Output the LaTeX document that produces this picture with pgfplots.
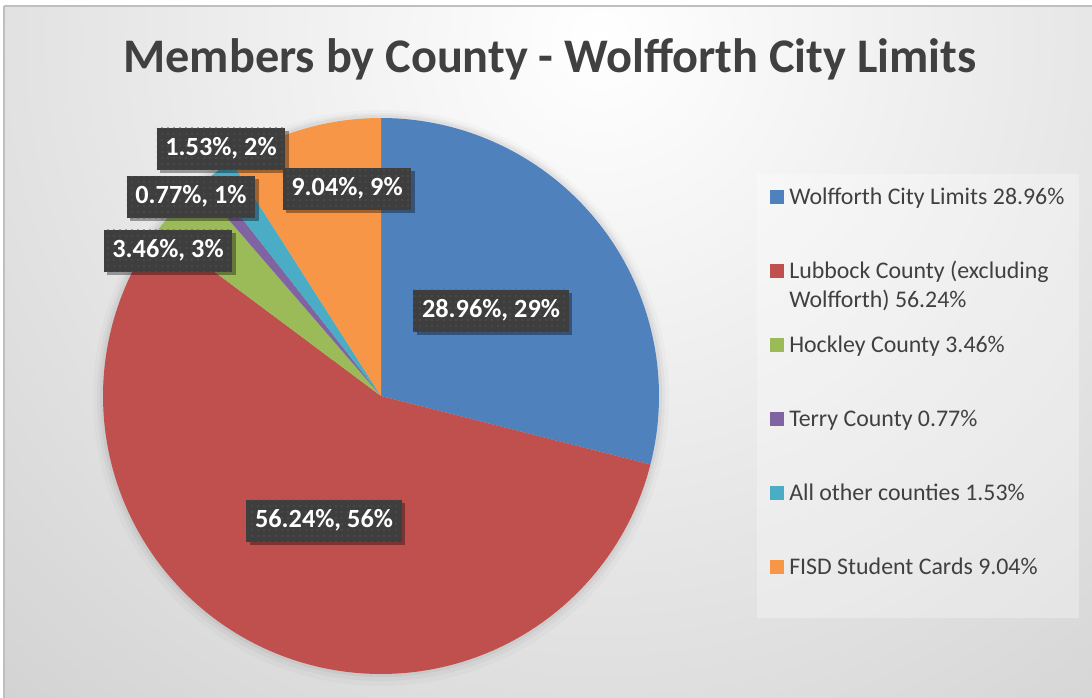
\documentclass[border=0pt]{standalone}
\usepackage{fontspec}
\setmainfont{Carlito}
\usepackage{pgfplots}
\pgfplotsset{compat=1.18}
\usetikzlibrary{shadows,patterns.meta}
\definecolor{cBlue}{HTML}{4F81BD}
\definecolor{cRed}{HTML}{C0504D}
\definecolor{cGreen}{HTML}{9BBB59}
\definecolor{cPurple}{HTML}{8064A2}
\definecolor{cAqua}{HTML}{4BACC6}
\definecolor{cOrange}{HTML}{F79646}
\definecolor{txt}{HTML}{404040}
\definecolor{bgout}{HTML}{C6C6C6}
\definecolor{frame}{HTML}{BFBFBF}
\definecolor{lblc}{HTML}{3E3E3E}
\definecolor{dotc}{HTML}{545454}

\tikzdeclarepattern{
  name=sparsedots,
  type=uncolored,
  bounding box={(-2.25pt,-2.25pt) and (2.25pt,2.25pt)},
  tile size={(4.5pt,4.5pt)},
  code={\fill (0pt,0pt) circle (0.65pt);}
}

% slice shares (percent), clockwise from 12 o'clock
\newcommand\sA{28.96}% Wolfforth City Limits
\newcommand\sB{56.24}% Lubbock County (excluding Wolfforth)
\newcommand\sC{3.46}%  Hockley County
\newcommand\sD{0.77}%  Terry County
\newcommand\sE{1.53}%  All other counties
\newcommand\sF{9.04}%  FISD Student Cards

\pgfmathsetmacro{\aO}{90}
\pgfmathsetmacro{\aA}{\aO-3.6*\sA}
\pgfmathsetmacro{\aB}{\aA-3.6*\sB}
\pgfmathsetmacro{\aC}{\aB-3.6*\sC}
\pgfmathsetmacro{\aD}{\aC-3.6*\sD}
\pgfmathsetmacro{\aE}{\aD-3.6*\sE}
\pgfmathsetmacro{\aF}{\aE-3.6*\sF}

\tikzset{lab/.style={fill=lblc, text=white,
  font=\fontsize{19.7}{23}\selectfont\bfseries,
  inner xsep=6.5pt, inner ysep=0pt, minimum height=31.5pt,
  text height=12.8pt, text depth=3pt,
  drop shadow={shadow xshift=2.5pt, shadow yshift=-2.5pt, opacity=0.35, fill=black},
  postaction={pattern={sparsedots}, pattern color=dotc}}}

\begin{document}
\begin{tikzpicture}[x=0.75pt,y=-0.75pt]
\useasboundingbox (0,0) rectangle (1092,698);
\fill[white] (0,0) rectangle (1092,698);
\begin{scope}
  \clip (4,6) rectangle (1092,698);
  \fill[bgout] (4,6) rectangle (1092,698);
  \shade[inner color=white, outer color=bgout] (600,40) circle (1150);
\end{scope}
\draw[frame, line width=1.2pt] (4,6) -- (1092,6);
\draw[frame, line width=1.2pt] (4,6) -- (4,698);
\fill[white, opacity=0.3] (757,174) rectangle (1079,618);
\node[anchor=base, font=\fontsize{36.2}{43}\selectfont\bfseries, text=txt] at (550,73) {Members by County - Wolfforth City Limits};
% soft shadow round the pie
\fill[black, opacity=0.02] (381,398) circle (288);
\fill[black, opacity=0.03] (381,397) circle (284);
\fill[black, opacity=0.04] (381,396) circle (281);
\coordinate (pc) at (381,396);

\begin{axis}[at={(pc)}, anchor=center, hide axis, scale only axis,
  width=417pt, height=417pt, xmin=-1, xmax=1, ymin=-1, ymax=1, clip=false,
  legend cell align=left,
  legend style={at={(1.1996,0.8782)}, anchor=north west, draw=none, fill=none,
    inner sep=0pt, row sep=39pt, column sep=3.75pt,
    nodes={font=\fontsize{17.9}{21}\selectfont, text=txt, inner sep=0pt,
      text height=14pt, text depth=2.5pt}},
  legend image code/.code={\path[#1] (0pt,-5.25pt) rectangle (10.5pt,5.25pt);},
]
\addplot[fill=cBlue, draw=none, domain=\aA:\aO, samples=90, variable=\t] ({cos(t)},{sin(t)}) -- (axis cs:0,0) -- cycle;
\addlegendentry{Wolfforth City Limits 28.96\%}
\addplot[fill=cRed, draw=none, domain=\aB:\aA, samples=160, variable=\t] ({cos(t)},{sin(t)}) -- (axis cs:0,0) -- cycle;
\addlegendentry{\rlap{\raisebox{-21.75pt}[0pt][0pt]{Wolfforth) 56.24\%}}Lubbock County (excluding}
\addplot[fill=cGreen, draw=none, domain=\aC:\aB, samples=12, variable=\t] ({cos(t)},{sin(t)}) -- (axis cs:0,0) -- cycle;
\addlegendentry{Hockley County 3.46\%}
\addplot[fill=cPurple, draw=none, domain=\aD:\aC, samples=5, variable=\t] ({cos(t)},{sin(t)}) -- (axis cs:0,0) -- cycle;
\addlegendentry{Terry County 0.77\%}
\addplot[fill=cAqua, draw=none, domain=\aE:\aD, samples=6, variable=\t] ({cos(t)},{sin(t)}) -- (axis cs:0,0) -- cycle;
\addlegendentry{All other counties 1.53\%}
\addplot[fill=cOrange, draw=none, domain=\aF:\aE, samples=30, variable=\t] ({cos(t)},{sin(t)}) -- (axis cs:0,0) -- cycle;
\addlegendentry{FISD Student Cards 9.04\%}

\node[lab] at (axis cs:0.3957,0.3058) {28.96\%, 29\%};
\node[lab] at (axis cs:-0.2050,-0.4496) {56.24\%, 56\%};
\node[lab] at (axis cs:-0.7662,0.5216) {3.46\%, 3\%};
\node[lab] at (axis cs:-0.6835,0.7158) {0.77\%, 1\%};
\node[lab] at (axis cs:-0.5755,0.8885) {1.53\%, 2\%};
\node[lab] at (axis cs:-0.1223,0.7446) {9.04\%, 9\%};
\end{axis}
\end{tikzpicture}
\end{document}
